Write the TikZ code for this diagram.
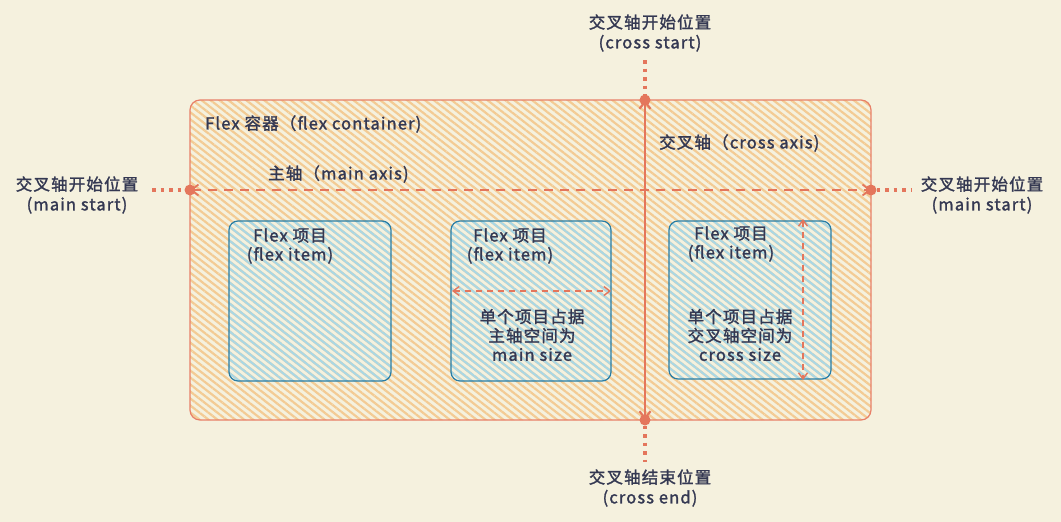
\documentclass[tikz,border=0pt]{standalone}
\usepackage{fontspec}
\setmainfont{Noto Sans CJK SC}[FakeBold=1.6,LetterSpace=7]
\usepackage{xcolor}
\usetikzlibrary{arrows.meta,patterns.meta}
\definecolor{paperbg}{RGB}{245,241,222}
\definecolor{boxred}{RGB}{232,128,104}
\definecolor{hatchorange}{RGB}{243,203,148}
\definecolor{itemblue}{RGB}{40,125,165}
\definecolor{hatchblue}{RGB}{170,215,228}
\definecolor{axisred}{RGB}{228,118,92}
\definecolor{inkdark}{RGB}{52,56,82}

\begin{document}
\begin{tikzpicture}[x=1pt, y=-1pt,
      txt/.style={font=\fontsize{16.5}{19}\selectfont, text=inkdark, inner sep=0pt, align=center},
      container/.style={draw=boxred, line width=1.2pt, rounded corners=10pt,
                        pattern={Lines[angle=-38,distance=5.5pt,line width=2.2pt]},
                        pattern color=hatchorange},
      itembox/.style={draw=itemblue, line width=1.2pt, rounded corners=9pt,
                      pattern={Lines[angle=-38,distance=5.5pt,line width=2.2pt]},
                      pattern color=hatchblue},
      axis/.style={axisred, line width=1.8pt},
      tail/.style={axisred, line width=3.5pt, dash pattern=on 3.5pt off 5pt},
      pin/.style={circle, fill=axisred, inner sep=0pt, minimum size=11pt}
  ]
    \useasboundingbox[fill=paperbg] (0,0) rectangle (1061,522);
    % container and items
    \draw[container] (190,100) rectangle (871,420);
    \draw[itembox] (229,221) rectangle (391,381);
    \draw[itembox] (451,221) rectangle (611,381);
    \draw[itembox] (669,221) rectangle (831,379);
    % axis end points
    \node[pin] (ms) at (190,190) {};
    \node[pin] (me) at (871,190) {};
    \node[pin] (cs) at (645,100) {};
    \node[pin] (ce) at (645,420) {};
    \coordinate (msout) at (152,190);
    \coordinate (meout) at (912,190);
    \coordinate (csout) at (645,60);
    \coordinate (ceout) at (645,462);
    \draw[tail] (msout) -- (ms);
    \draw[tail] (me) -- (meout);
    \draw[tail] (csout) -- (cs);
    \draw[tail] (ce) -- (ceout);
    \draw[axis, dashed, dash pattern=on 9pt off 7pt, {Straight Barb[length=7pt,width=11pt]}-{Straight Barb[length=7pt,width=11pt]}]
         (ms.center) -- (me.center);
    \draw[axis, line width=2.2pt, {Straight Barb[length=7pt,width=11pt]}-{Straight Barb[length=7pt,width=11pt]}]
         (cs.center) -- (ce.center);
    % end labels
    \node[txt] (crossstart) at (650,33) {交叉轴开始位置\\[1pt](cross start)};
    \node[txt] (mainstart) at (77,195) {交叉轴开始位置\\[1pt](main start)};
    \node[txt] (mainend) at (982,195) {交叉轴开始位置\\[1pt](main start)};
    \node[txt] (crossend) at (650,488) {交叉轴结束位置\\[1pt](cross end)};
    % axis and container labels
    \node[txt, anchor=west] (flexbox) at (205,124) {Flex 容器（flex container)};
    \node[txt, anchor=west] (mainaxis) at (268,174) {主轴（main axis)};
    \node[txt, anchor=west] (crossaxis) at (659,143) {交叉轴（cross axis)};
    % item labels
    \node[txt] (itema) at (290,246) {Flex 项目\\(flex item)};
    \node[txt] (itemb) at (510,246) {Flex 项目\\(flex item)};
    \node[txt] (itemc) at (731,244) {Flex 项目\\(flex item)};
    % size hints
    \coordinate (sizel) at (452,291);
    \coordinate (sizer) at (611,291);
    \draw[axis, line width=1.4pt, dashed, dash pattern=on 6pt off 5pt, {Straight Barb[length=6pt,width=9pt]}-{Straight Barb[length=6pt,width=9pt]}]
         (sizel) -- (sizer);
    \coordinate (sizet) at (803,219);
    \coordinate (sizeb) at (803,380);
    \draw[axis, line width=1.4pt, dashed, dash pattern=on 6pt off 5pt, {Straight Barb[length=6pt,width=9pt]}-{Straight Barb[length=6pt,width=9pt]}]
         (sizet) -- (sizeb);
    \node[txt] (mainsize) at (532,335) {单个项目占据\\主轴空间为\\main size};
    \node[txt] (crosssize) at (740,335) {单个项目占据\\交叉轴空间为\\cross size};
  \end{tikzpicture}
\end{document}
